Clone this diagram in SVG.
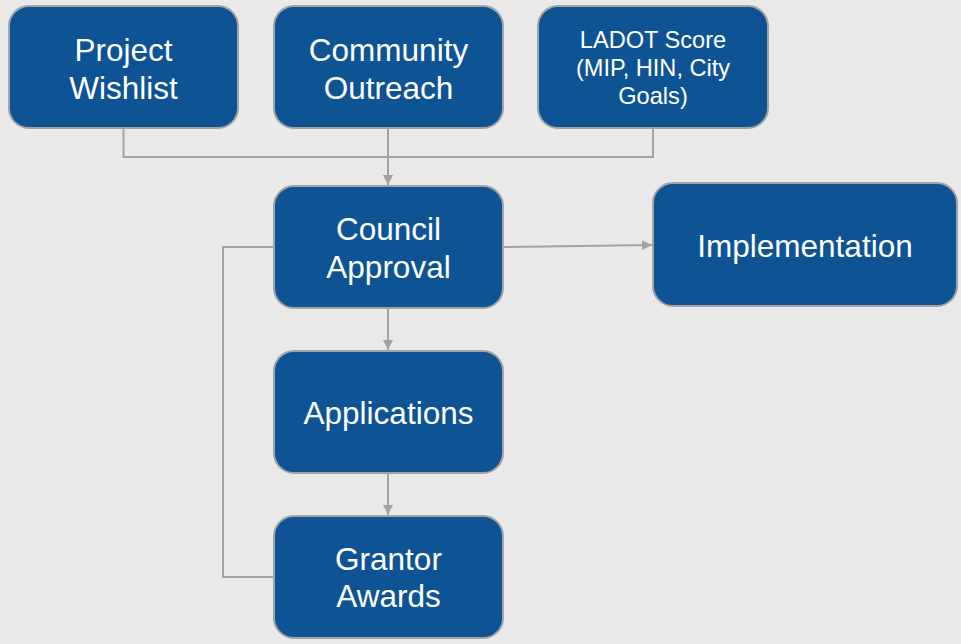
<svg xmlns="http://www.w3.org/2000/svg" width="961" height="644" viewBox="0 0 961 644">
<style>
.box{fill:#0e5394;stroke:#a3a3a3;stroke-width:2}
.t{fill:#ffffff;font-family:"Liberation Sans",Arial,sans-serif;font-size:31.5px;text-anchor:middle}
.s{font-size:23.6px}
.c{fill:none;stroke:#a3a3a3;stroke-width:2}
</style>
<defs>
<marker id="ah" viewBox="0 0 10 10" refX="10" refY="5" markerWidth="5" markerHeight="5" orient="auto" markerUnits="strokeWidth">
<path d="M0,0 L10,5 L0,10 z" fill="#a3a3a3"/>
</marker>
</defs>
<rect width="961" height="644" fill="#e9e9e9"/>
<g id="connectors">
<polyline class="c" points="123.5,128 123.5,157 653,157 653,128"/>
<line class="c" x1="388" y1="128" x2="388" y2="185" marker-end="url(#ah)"/>
<line class="c" x1="503" y1="247" x2="652" y2="245" marker-end="url(#ah)"/>
<line class="c" x1="388" y1="308" x2="388" y2="350" marker-end="url(#ah)"/>
<line class="c" x1="388" y1="473" x2="388" y2="515" marker-end="url(#ah)"/>
<polyline class="c" points="273,577 223,577 223,247 274,247"/>
</g>
<g id="wishlist">
<rect class="box" x="9" y="6" width="229" height="122" rx="20"/>
<text class="t" x="123.5" y="61">Project</text>
<text class="t" x="123.5" y="98.5">Wishlist</text>
</g>
<g id="outreach">
<rect class="box" x="274" y="6" width="229" height="122" rx="20"/>
<text class="t" x="388.5" y="61">Community</text>
<text class="t" x="388.5" y="98.5">Outreach</text>
</g>
<g id="ladot">
<rect class="box" x="538" y="6" width="230" height="122" rx="20"/>
<text class="t s" x="653" y="48">LADOT Score</text>
<text class="t s" x="653" y="76">(MIP, HIN, City</text>
<text class="t s" x="653" y="103.5">Goals)</text>
</g>
<g id="council">
<rect class="box" x="274" y="186" width="229" height="122" rx="20"/>
<text class="t" x="388.5" y="240">Council</text>
<text class="t" x="388.5" y="277.5">Approval</text>
</g>
<g id="implementation">
<rect class="box" x="653" y="183" width="304" height="123" rx="20"/>
<text class="t" x="805" y="256.5">Implementation</text>
</g>
<g id="applications">
<rect class="box" x="274" y="351" width="229" height="122" rx="20"/>
<text class="t" x="388.5" y="424">Applications</text>
</g>
<g id="grantor">
<rect class="box" x="274" y="516" width="229" height="122" rx="20"/>
<text class="t" x="388.5" y="569.5">Grantor</text>
<text class="t" x="388.5" y="607">Awards</text>
</g>
</svg>
